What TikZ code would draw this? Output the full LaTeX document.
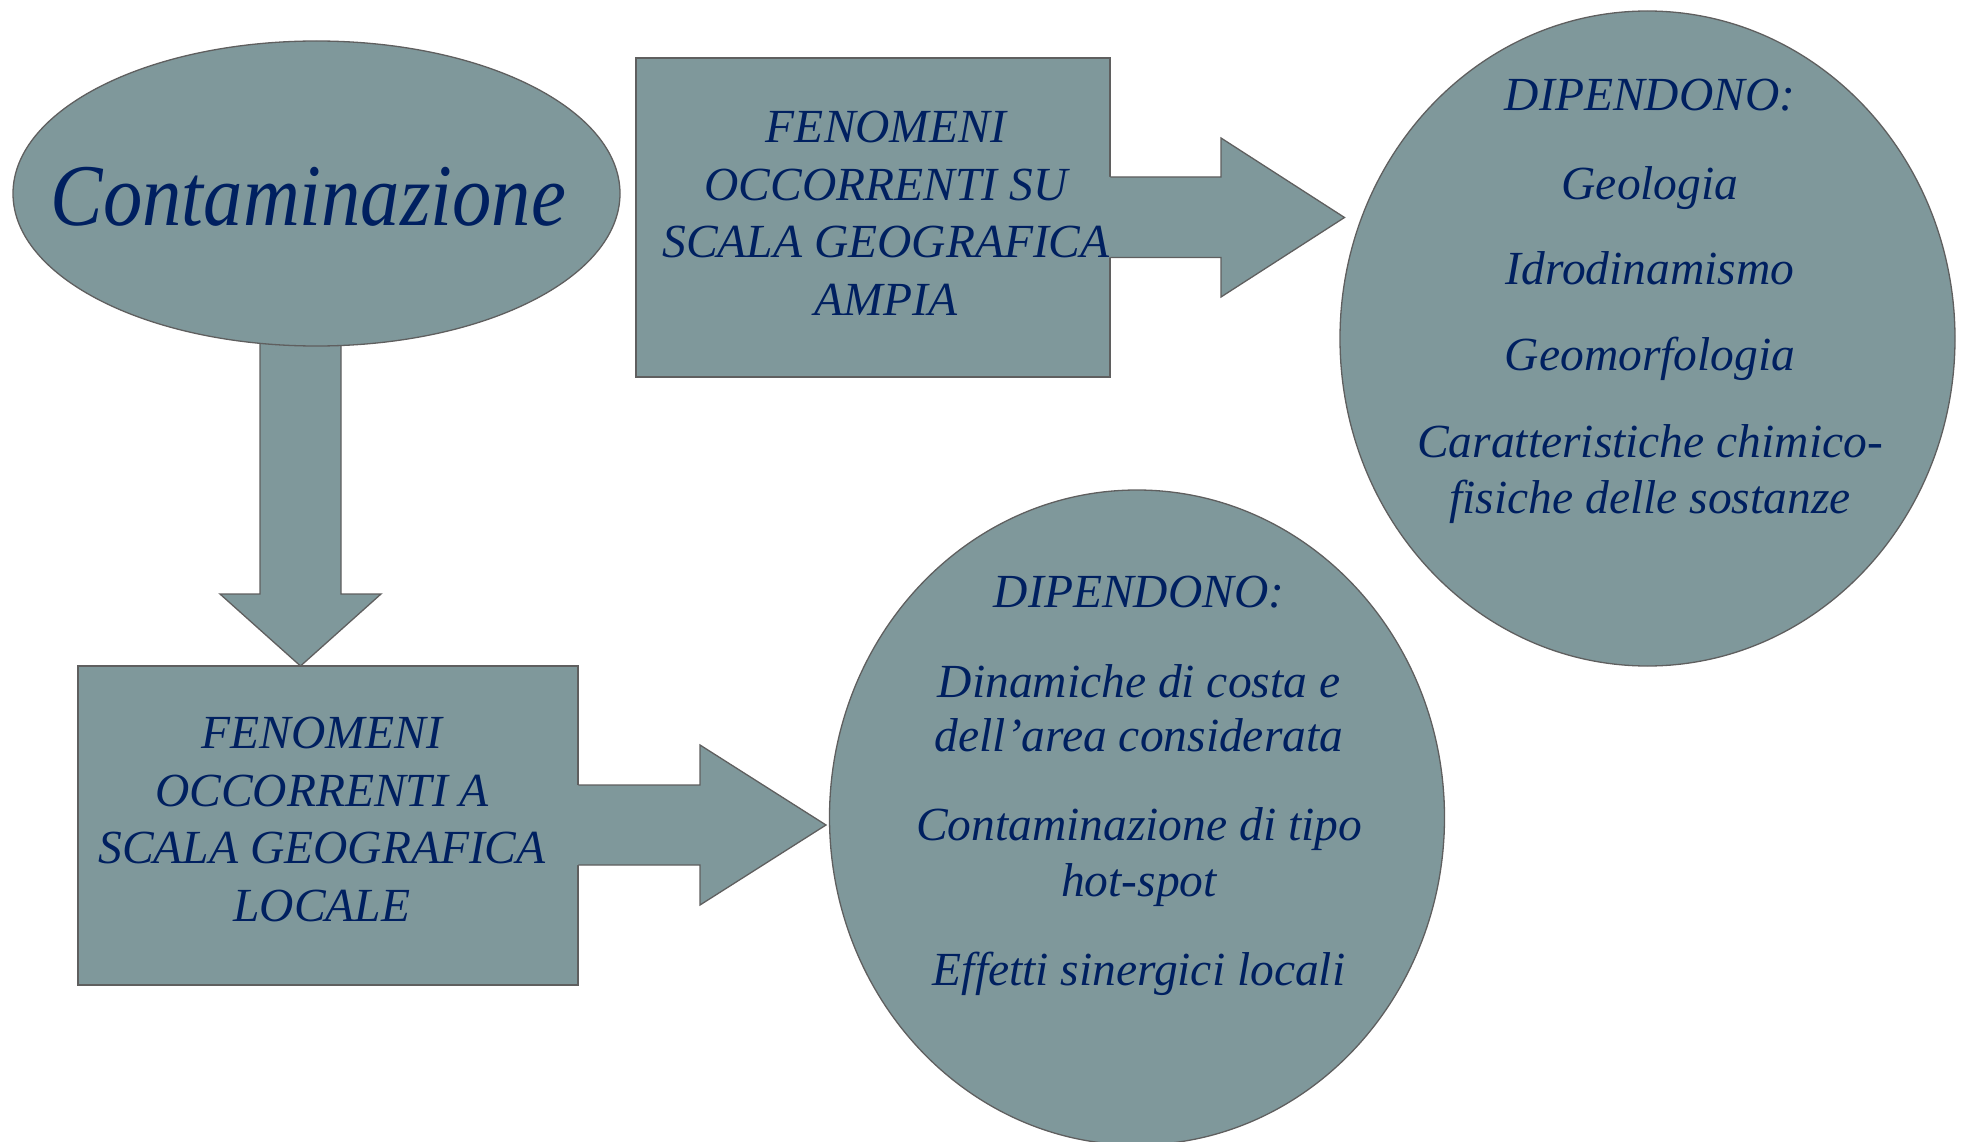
\documentclass[tikz,border=0pt]{standalone}
\usepackage{fontspec}
\setmainfont{Liberation Serif}
\usetikzlibrary{shapes.geometric}
\definecolor{fillc}{HTML}{7F989B}
\definecolor{txt}{HTML}{002060}
\definecolor{edgec}{HTML}{5F5F5F}
\begin{document}
\begin{tikzpicture}[x=1pt,y=-1pt,
  shapebox/.style={draw=edgec, line width=1.3pt, fill=fillc},
  arrowline/.style={draw=edgec, line width=1.3pt},
  lbl/.style={text=txt, font=\itshape\fontsize{47.5}{56}\selectfont, align=center, anchor=base, inner sep=0pt},
  biglbl/.style={text=txt, font=\itshape\fontsize{88}{100}\selectfont, anchor=base, inner sep=0pt}
]
\useasboundingbox (0,0) rectangle (1966,1142);

% down block arrow (drawn behind the ellipse)
\coordinate (dtip) at (300.5,666);
\fill[fillc] (260,330) -- (260,594) -- (220,594) -- (dtip) -- (381,594) -- (341,594) -- (341,330) -- cycle;
\draw[arrowline] (260,330) -- (260,594) -- (220,594) -- (dtip) -- (381,594) -- (341,594) -- (341,330);

% shapes
\node[shapebox, ellipse, minimum width=607pt, minimum height=305pt, inner sep=0pt] (cont) at (316.5,193.5) {};
\node[shapebox, rectangle, minimum width=474pt, minimum height=319pt, inner sep=0pt] (boxA) at (873,217.5) {};
\node[shapebox, rectangle, minimum width=500pt, minimum height=319pt, inner sep=0pt] (boxB) at (328,825.5) {};
\node[shapebox, ellipse, minimum width=615pt, minimum height=655pt, inner sep=0pt] (circA) at (1647.5,338.5) {};
\node[shapebox, ellipse, minimum width=615pt, minimum height=655pt, inner sep=0pt] (circB) at (1137,817.5) {};

% top right block arrow
\coordinate (atip) at (1344.5,217.5);
\fill[fillc] (1109,177) -- (1221,177) -- (1221,138) -- (atip) -- (1221,297) -- (1221,257.5) -- (1109,257.5) -- cycle;
\draw[arrowline] (1110.3,177) -- (1221,177) -- (1221,138) -- (atip) -- (1221,297) -- (1221,257.5) -- (1110.3,257.5);

% bottom right block arrow
\coordinate (btip) at (826,825);
\fill[fillc] (577,785) -- (700,785) -- (700,745) -- (btip) -- (700,905) -- (700,865) -- (577,865) -- cycle;
\draw[arrowline] (578.3,785) -- (700,785) -- (700,745) -- (btip) -- (700,905) -- (700,865) -- (578.3,865);

% texts (anchor base = baseline of the last line)
\node[biglbl] (t0) at (308.5,226) {\scalebox{0.893}[1]{Contaminazione}};
\node[lbl] (t1) at (886,315) {FENOMENI\\[1.5pt]OCCORRENTI SU\\[1.5pt]SCALA GEOGRAFICA\\[1.5pt]AMPIA};
\node[lbl] (t2) at (322,921) {FENOMENI\\[1.5pt]OCCORRENTI A\\[1.5pt]SCALA GEOGRAFICA\\[1.5pt]LOCALE};
\node[lbl] (t3) at (1650,513) {DIPENDONO:\\[33pt]Geologia\\[29pt]Idrodinamismo\\[30pt]Geomorfologia\\[31pt]Caratteristiche chimico-\\fisiche delle sostanze};
\node[lbl] (t4) at (1139,985) {DIPENDONO:\\[34pt]Dinamiche di costa e\\[-2pt]dell’area considerata\\[33pt]Contaminazione di tipo\\hot-spot\\[33pt]Effetti sinergici locali};
\end{tikzpicture}
\end{document}
